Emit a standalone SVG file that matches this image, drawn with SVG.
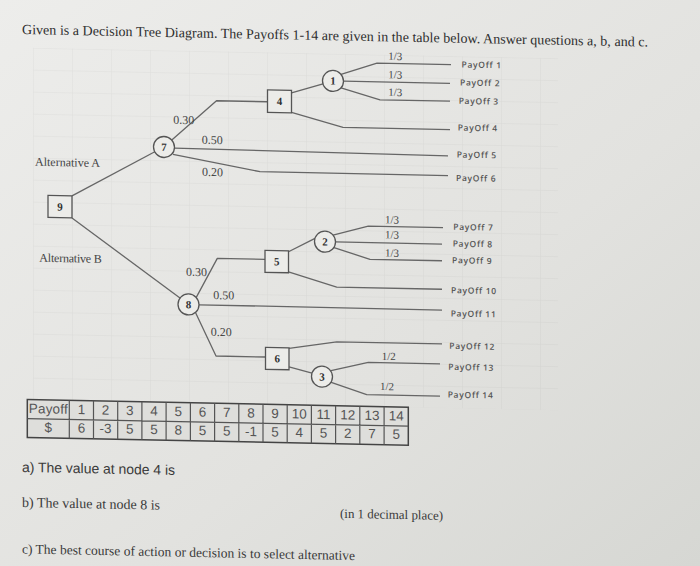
<svg xmlns="http://www.w3.org/2000/svg" width="700" height="566" viewBox="0 0 700 566">
<defs>
<linearGradient id="bg" x1="0" y1="0" x2="1" y2="1">
<stop offset="0" stop-color="#ededeb"/>
<stop offset="0.6" stop-color="#e2e2df"/>
<stop offset="1" stop-color="#d6d7d3"/>
</linearGradient>
<pattern id="grid" width="39" height="22" patternUnits="userSpaceOnUse" x="33" y="47">
<path d="M0,0 H39 M0,0 V22" fill="none" stroke="#000" stroke-opacity="0.05" stroke-width="1"/>
</pattern>
<style>
.ln{fill:none;stroke:#666;stroke-width:1.3;stroke-linejoin:round}
.sq{fill:#ecece9;stroke:#555;stroke-width:1.3}
.ci{fill:#ecece9;stroke:#555;stroke-width:1.3}
.nt{font-family:"Liberation Serif",serif;font-weight:bold;font-size:11px;fill:#333;text-anchor:middle}
.pr{font-family:"Liberation Serif",serif;font-size:12px;fill:#444}
.fr{font-family:"Liberation Serif",serif;font-size:11px;fill:#444}
.po{font-family:"Open Sans",sans-serif;font-weight:600;font-size:8.5px;fill:#555;letter-spacing:0.7px}
.alt{font-family:"Liberation Serif",serif;font-size:12px;fill:#444}
.tb{fill:none;stroke:#555;stroke-width:1.2}
.tt{font-family:"Liberation Sans",sans-serif;font-size:13.5px;fill:#555;text-anchor:middle}
.q{font-family:"Liberation Serif",serif;fill:#3a3a3a}
</style>
</defs>
<rect width="700" height="566" fill="url(#bg)"/>
<g transform="matrix(1 0.02 0 1 0 0)">
<rect x="33" y="47" width="525" height="352" fill="url(#grid)"/>
<text x="22" y="33.6" font-family="Liberation Serif, serif" font-size="14" fill="#2e2e2e" textLength="626">Given is a Decision Tree Diagram. The Payoffs 1-14 are given in the table below. Answer questions a, b, and c.</text>

<g id="connectors">
<path class="ln" d="M72,194.5 L154.8,148.7"/>
<path class="ln" d="M72,216.5 L180,294.5"/>
<path class="ln" d="M171.8,136.6 L216.5,96.4 L267.5,96.4"/>
<path class="ln" d="M174.5,144.6 L448,147"/>
<path class="ln" d="M173,151 L260,166.5 L448,166.6"/>
<path class="ln" d="M291.5,87 L323,77.5"/>
<path class="ln" d="M291.5,106.5 L343,120.6 L450,120.6"/>
<path class="ln" d="M341,67.5 L377,55.6 L451,55.6"/>
<path class="ln" d="M343.5,74.3 L450,74.3"/>
<path class="ln" d="M341,81 L380,92.2 L450,92.2"/>
<path class="ln" d="M196,294 L217.3,254 L265,254"/>
<path class="ln" d="M199,300.8 L442,301.2"/>
<path class="ln" d="M195.5,308.5 L216,351.7 L265.5,351.7"/>
<path class="ln" d="M288.5,246 L315,232"/>
<path class="ln" d="M288.5,266 L336.7,280.4 L442,280.4"/>
<path class="ln" d="M333,228.5 L368.3,218.8 L443,218.8"/>
<path class="ln" d="M335.5,235.2 L442,235.2"/>
<path class="ln" d="M334,241 L370,251.9 L442,251.9"/>
<path class="ln" d="M289,342.5 L336.7,335.1 L442,335.1"/>
<path class="ln" d="M289,361 L312,367"/>
<path class="ln" d="M331,364 L368.3,355 L440,355"/>
<path class="ln" d="M330.5,375.5 L366.7,387.3 L440,387.3"/>
</g>

<g id="branch-labels">
<text class="pr" x="173.3" y="120.3">0.30</text>
<text class="pr" x="201.7" y="139.7">0.50</text>
<text class="pr" x="202" y="171.8">0.20</text>
<text class="pr" x="186" y="272">0.30</text>
<text class="pr" x="213.3" y="294.8">0.50</text>
<text class="pr" x="210.7" y="331.6">0.20</text>
<text class="fr" x="388.3" y="52">1/3</text>
<text class="fr" x="388.3" y="70.5">1/3</text>
<text class="fr" x="388.3" y="88">1/3</text>
<text class="fr" x="385" y="215.6">1/3</text>
<text class="fr" x="385" y="230.6">1/3</text>
<text class="fr" x="385" y="248.9">1/3</text>
<text class="fr" x="381.7" y="352.3">1/2</text>
<text class="fr" x="380" y="382.4">1/2</text>
<text class="alt" x="35" y="165" textLength="65">Alternative A</text>
<text class="alt" x="39.3" y="260.9" textLength="62.5">Alternative B</text>
</g>

<g id="payoffs">
<text class="po" x="461.5" y="58.3">PayOff 1</text>
<text class="po" x="460" y="76.3">PayOff 2</text>
<text class="po" x="458.7" y="94.7">PayOff 3</text>
<text class="po" x="457.7" y="121.4">PayOff 4</text>
<text class="po" x="456.7" y="148.4">PayOff 5</text>
<text class="po" x="456" y="171.8">PayOff 6</text>
<text class="po" x="453.3" y="220.8">PayOff 7</text>
<text class="po" x="452.7" y="237.5">PayOff 8</text>
<text class="po" x="452" y="254.2">PayOff 9</text>
<text class="po" x="451" y="284.2">PayOff 10</text>
<text class="po" x="450.7" y="307.5">PayOff 11</text>
<text class="po" x="449.3" y="339.9">PayOff 12</text>
<text class="po" x="448.3" y="360.9">PayOff 13</text>
<text class="po" x="447.7" y="388.6">PayOff 14</text>
</g>

<g id="node-9"><rect class="sq" x="48" y="194.5" width="24" height="22"/><text class="nt" x="60" y="209.3">9</text></g>
<g id="node-7"><circle class="ci" cx="164" cy="143.7" r="10.5"/><text class="nt" x="164" y="147.5">7</text></g>
<g id="node-8"><circle class="ci" cx="188.5" cy="300.7" r="10.5"/><text class="nt" x="188.5" y="304.5">8</text></g>
<g id="node-4"><rect class="sq" x="267.5" y="84.5" width="24" height="22.5"/><text class="nt" x="279.5" y="99.5">4</text></g>
<g id="node-1"><circle class="ci" cx="333" cy="74.3" r="10.5"/><text class="nt" x="333" y="78">1</text></g>
<g id="node-5"><rect class="sq" x="265" y="245" width="23.5" height="22"/><text class="nt" x="276.75" y="259.8">5</text></g>
<g id="node-2"><circle class="ci" cx="325" cy="235.2" r="10.5"/><text class="nt" x="325" y="239">2</text></g>
<g id="node-6"><rect class="sq" x="265.5" y="342" width="23.5" height="22"/><text class="nt" x="277.25" y="356.8">6</text></g>
<g id="node-3"><circle class="ci" cx="322" cy="370.2" r="10.5"/><text class="nt" x="322" y="374">3</text></g>

<g id="payoff-table">
<rect x="27.3" y="399" width="381" height="38" fill="#dededb" stroke="#444" stroke-width="1.5"/>
<path class="tb" d="M27.3,418 H408.3 M69.3,399 V437 M93.5,399 V437 M117.7,399 V437 M141.9,399 V437 M166.1,399 V437 M190.4,399 V437 M214.6,399 V437 M238.8,399 V437 M263,399 V437 M287.2,399 V437 M311.4,399 V437 M335.6,399 V437 M359.8,399 V437 M384.1,399 V437"/>
<text class="tt" x="48.3" y="412.5" textLength="39">Payoff</text>
<text class="tt" x="48.3" y="431">$</text>
<text class="tt" y="412.5"><tspan x="81.4">1</tspan><tspan x="105.6">2</tspan><tspan x="129.8">3</tspan><tspan x="154">4</tspan><tspan x="178.2">5</tspan><tspan x="202.5">6</tspan><tspan x="226.7">7</tspan><tspan x="250.9">8</tspan><tspan x="275.1">9</tspan><tspan x="299.3">10</tspan><tspan x="323.5">11</tspan><tspan x="347.7">12</tspan><tspan x="372">13</tspan><tspan x="396.2">14</tspan></text>
<text class="tt" y="431"><tspan x="81.4">6</tspan><tspan x="105.6">-3</tspan><tspan x="129.8">5</tspan><tspan x="154">5</tspan><tspan x="178.2">8</tspan><tspan x="202.5">5</tspan><tspan x="226.7">5</tspan><tspan x="250.9">-1</tspan><tspan x="275.1">5</tspan><tspan x="299.3">4</tspan><tspan x="323.5">5</tspan><tspan x="347.7">2</tspan><tspan x="372">7</tspan><tspan x="396.2">5</tspan></text>
</g>

<g id="questions">
<text x="22" y="471.5" font-family="Liberation Sans, sans-serif" font-size="14" fill="#3a3a3a" textLength="153">a) The value at node 4 is</text>
<text class="q" x="22" y="506.5" font-size="14" textLength="138">b) The value at node 8 is</text>
<text class="q" x="340" y="511" font-size="13" textLength="103">(in 1 decimal place)</text>
<text class="q" x="22" y="553" font-size="13.5" textLength="333">c) The best course of action or decision is to select alternative</text>
</g>
</g>
</svg>
